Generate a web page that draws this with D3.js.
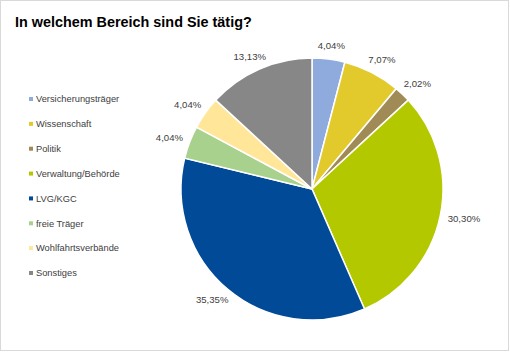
<!DOCTYPE html>
<html>
<head>
<meta charset="utf-8">
<script src="https://cdn.jsdelivr.net/npm/d3@7"></script>
<style>
  body { margin: 0; background: #fff; }
  svg { display: block; font-family: "Liberation Sans", Arial, sans-serif; }
</style>
</head>
<body>
<div id="chart"></div>
<script>
// survey answers (n = 99), shares in percent
const CATEGORIES = [
  "Versicherungsträger",
  "Wissenschaft",
  "Politik",
  "Verwaltung/Behörde",
  "LVG/KGC",
  "freie Träger",
  "Wohlfahrtsverbände",
  "Sonstiges",
];
const VALUES = [4.04, 7.07, 2.02, 30.3, 35.35, 4.04, 4.04, 13.13];
const COLORS = [
  "#8faadc", "#e2c92c", "#a08b57", "#b4c800",
  "#004a97", "#a9d18e", "#ffe699", "#878787",
];

const W = 510, H = 352;
const CX = 312, CY = 189, R = 131;

const svg = d3.select("#chart").append("svg")
  .attr("width", W).attr("height", H);

svg.append("rect")
  .attr("x", 0.5).attr("y", 0.5)
  .attr("width", W - 2).attr("height", H - 2)
  .attr("fill", "#fff").attr("stroke", "#d9d9d9");

svg.append("text")
  .attr("x", 15).attr("y", 27)
  .attr("font-size", 14.4).attr("font-weight", "bold")
  .attr("fill", "#000")
  .text("In welchem Bereich sind Sie tätig?");

const data = CATEGORIES.map((c, i) => ({ name: c, value: VALUES[i], color: COLORS[i] }));

const pie = d3.pie().value((d) => d.value).sort(null);
const arc = d3.arc().innerRadius(0).outerRadius(R);
const arcs = pie(data);

const g = svg.append("g").attr("transform", `translate(${CX},${CY})`);

g.selectAll("path")
  .data(arcs)
  .join("path")
  .attr("d", arc)
  .attr("fill", (d) => d.data.color)
  .attr("stroke", "#fff")
  .attr("stroke-width", 1.5);

// labels just outside the rim, pushed out by half their box
const fmt = (v) => v.toFixed(2).replace(".", ",") + "%";
g.selectAll("text.lbl")
  .data(arcs)
  .join("text")
  .attr("class", "lbl")
  .attr("font-size", 9.6)
  .attr("fill", "#404040")
  .attr("text-anchor", "middle")
  .attr("dy", "0.35em")
  .text((d) => fmt(d.data.value))
  .each(function (d) {
    const a = (d.startAngle + d.endAngle) / 2;
    const w = this.getComputedTextLength();
    const x = Math.sin(a) * (R + 8) + Math.sin(a) * w / 2;
    const y = -Math.cos(a) * (R + 8) - Math.cos(a) * 6;
    d3.select(this).attr("x", x).attr("y", y);
  });

// legend
const ly = d3.scalePoint().domain(CATEGORIES).range([99, 273]);
const leg = svg.append("g");
const row = leg.selectAll("g")
  .data(data)
  .join("g")
  .attr("transform", (d) => `translate(31,${ly(d.name)})`);

row.append("rect")
  .attr("x", -2).attr("y", -2)
  .attr("width", 4).attr("height", 4)
  .attr("fill", (d) => d.color);

row.append("text")
  .attr("x", 5).attr("dy", "0.35em")
  .attr("font-size", 9.3)
  .attr("fill", "#404040")
  .text((d) => d.name);
</script>
</body>
</html>
